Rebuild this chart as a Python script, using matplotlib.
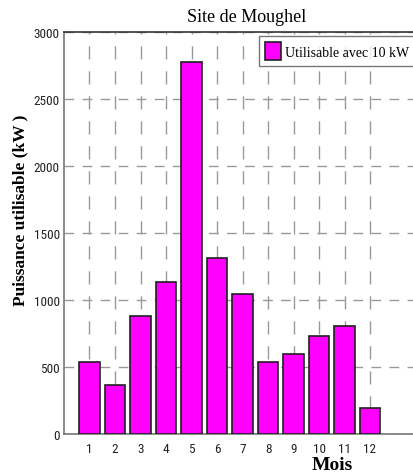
import matplotlib
matplotlib.use("Agg")
import matplotlib.pyplot as plt
from matplotlib import font_manager as fm

months = [1, 2, 3, 4, 5, 6, 7, 8, 9, 10, 11, 12]
puissance = [540, 366, 883, 1132, 2778, 1316, 1045, 540, 597, 729, 808, 196]
yticks = [0, 500, 1000, 1500, 2000, 2500, 3000]

# pick a narrow sans font for tick labels if any is installed
tick_prop = None
for key in ["LiberationSansNarrow-Regular", "RobotoCondensed-Regular",
            "DejaVuSansCondensed.ttf", "Condensed-Regular", "Narrow-Regular"]:
    for f in fm.fontManager.ttflist:
        if key in f.fname:
            tick_prop = fm.FontProperties(fname=f.fname, size=9.5)
            break
    if tick_prop is not None:
        break
if tick_prop is None:
    tick_prop = fm.FontProperties(family="Liberation Sans", size=8.5)

serif = "Liberation Serif"

fig = plt.figure(figsize=(4.14, 4.77), dpi=100)
ax = fig.add_axes([64/414, 42/477, 357/414, 402/477])

ax.bar(months, puissance, width=0.8, color="#ff00ff", edgecolor="#202020",
       linewidth=1.2, zorder=3, label="Utilisable avec 10 kW")

ax.set_xlim(0, 14)
ax.set_ylim(0, 3000)
ax.set_xticks(months)
ax.set_yticks(yticks)
ax.xaxis.grid(True, color="#999999", linestyle=(0, (9.5, 8.5)), linewidth=1.0, zorder=0)
ax.yaxis.grid(True, color="#999999", linestyle=(0, (7, 6)), linewidth=1.0, zorder=0)
ax.tick_params(axis="y", length=0, pad=3, colors="#222222")
ax.tick_params(axis="x", length=0, pad=6, colors="#222222")
for lab in ax.get_xticklabels() + ax.get_yticklabels():
    lab.set_fontproperties(tick_prop)

for side in ["left", "bottom"]:
    ax.spines[side].set_color("#777777")
    ax.spines[side].set_linewidth(1.2)
ax.spines["top"].set_color("#333333")
ax.spines["top"].set_linewidth(1.2)
ax.spines["right"].set_visible(False)

fig.text(247/414, 1 - 17/477, "Site de Moughel", ha="center", va="center",
         fontfamily=serif, fontsize=13)
fig.text(20/414, 1 - 210/477, "Puissance utilisable (kW )", rotation=90, ha="center",
         va="center", fontfamily=serif, fontweight="bold", fontsize=12.5)
fig.text(332/414, 1 - 466/477, "Mois", ha="center", va="center",
         fontfamily=serif, fontweight="bold", fontsize=14)

leg = ax.legend(loc="upper left", bbox_to_anchor=(259/414, 1 - 37/477),
                bbox_transform=fig.transFigure, prop={"family": serif, "size": 10},
                frameon=True, fancybox=False, edgecolor="#555555",
                handlelength=1.1, handleheight=1.6, handletextpad=0.35,
                borderpad=0.45, borderaxespad=0)
leg.get_frame().set_linewidth(1.0)

fig.savefig("out.png", dpi=100)
